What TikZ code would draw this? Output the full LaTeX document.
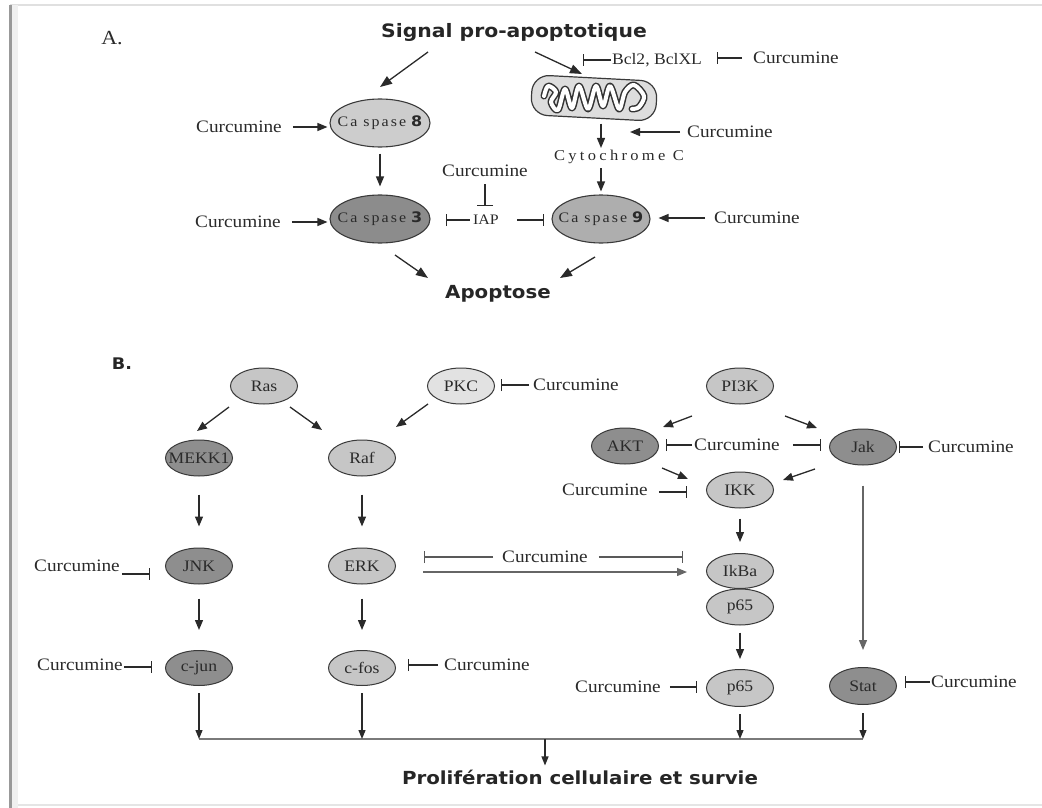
\documentclass[tikz,border=0pt]{standalone}
\usepackage{fontspec}
\usepackage{graphicx}
\setmainfont{Liberation Serif}[FakeStretch=1.1]
\newfontfamily\hdfont{DejaVu Sans Bold}[FakeStretch=1.1]
\newfontfamily\trackfont{Liberation Serif}[FakeStretch=1.1,LetterSpace=14]
\newfontfamily\cytofont{Liberation Serif}[FakeStretch=1.1,LetterSpace=22]
\usetikzlibrary{arrows.meta,shapes.geometric}

\definecolor{ink}{HTML}{2A2A2A}
\definecolor{edge}{HTML}{3A3A3A}
\definecolor{fillLight}{HTML}{C6C6C6}
\definecolor{fillDark}{HTML}{8E8E8E}
\definecolor{fillPale}{HTML}{E2E2E2}
\definecolor{cEight}{HTML}{CDCDCD}
\definecolor{cThree}{HTML}{8C8C8C}
\definecolor{cNine}{HTML}{AEAEAE}
\definecolor{mitofill}{HTML}{DDDDDD}
\definecolor{busgray}{HTML}{7A7A7A}

\newcommand\casplabel[1]{{\trackfont Ca spase}\hspace{5pt}{\hdfont\fontsize{14.5}{16}\selectfont #1}}

\tikzset{
  lbl/.style={inner sep=1pt, font=\fontsize{17.5}{20}\selectfont, text=ink},
  zerowidth/.style={execute at begin node={\hbox to 0pt\bgroup\hss},
                    execute at end node={\hss\egroup}},
  prot/.style={ellipse, draw=edge, line width=1pt, minimum width=67, minimum height=36,
               inner sep=0pt, zerowidth, font=\fontsize{16}{18}\selectfont, text=ink},
  casp/.style={ellipse, draw=edge, line width=1.1pt, minimum width=100, minimum height=48,
               inner sep=0pt, zerowidth, font=\fontsize{14.5}{16}\selectfont, text=ink},
  head/.style={inner sep=1pt, font=\hdfont\fontsize{18}{21}\selectfont, text=black!85},
  arr/.style={draw=ink, line width=1.3pt, -{Triangle[length=10pt,width=8pt]}},
  smallarr/.style={draw=ink, line width=1.2pt, -{Triangle[length=9pt,width=7pt]}},
  inh/.style={draw=ink, line width=1.2pt, -{Bar[width=12pt,line width=1.2pt]}},
  busline/.style={draw=busgray, line width=1.8pt},
}

\begin{document}
\begin{tikzpicture}[x=1pt,y=-1pt]
\useasboundingbox (0,0) rectangle (1042,808);

% page frame
\draw[line width=2pt, black!12] (10,5.5) -- (1042,5.5);
\draw[line width=1.2pt, black!10] (10,805) -- (1042,805);
\draw[line width=6pt, black!6] (15,5) -- (15,808);
\draw[line width=2.5pt, black!40] (10.5,5) -- (10.5,808);

%% ---------------- Part A: apoptosis ----------------
\node[lbl, font=\fontsize{20}{22}\selectfont] (labA) at (112,38) {A.};
\node[head, font=\hdfont\fontsize{18.5}{21}\selectfont] (signal) at (514,32) {Signal pro-apoptotique};

\node[casp, fill=cEight] (casp8) at (380,123) {\casplabel{8}};
\node[casp, fill=cThree] (casp3) at (380,219) {\casplabel{3}};
\node[casp, fill=cNine, minimum width=98] (casp9) at (601,219) {\casplabel{9}};

% mitochondrion with its cristae
\node[draw=edge, line width=1.2pt, fill=mitofill, rounded corners=17,
      minimum width=125, minimum height=40, rotate=-3] (mito) at (594,98) {};
\begin{scope}[shift={(mito.center)}]
  \draw[line width=7pt, black!80, line join=round, line cap=round]
    plot[smooth, tension=0.55] coordinates {(-50,-2) (-46,-12) (-38,-6) (-43,4) (-36,12)
      (-29,-9) (-22,10) (-15,-12) (-6,11) (2,-12) (9,8) (16,-12) (25,11) (31,-6)
      (40,-13) (50,-2) (45,9) (38,11)};
  \draw[line width=4pt, white, line join=round, line cap=round]
    plot[smooth, tension=0.55] coordinates {(-50,-2) (-46,-12) (-38,-6) (-43,4) (-36,12)
      (-29,-9) (-22,10) (-15,-12) (-6,11) (2,-12) (9,8) (16,-12) (25,11) (31,-6)
      (40,-13) (50,-2) (45,9) (38,11)};
\end{scope}

\node[lbl, font=\fontsize{16}{18}\selectfont] (bcl) at (657,60) {Bcl2, BclXL};
\node[lbl] (curBcl) at (796,58) {Curcumine};
\coordinate (bclbar) at (583,60);
\draw[inh] (bcl.west) -- (bclbar);
\draw[inh, shorten <=10, shorten >=14] (curBcl.west) -- (curBcl.west -| bcl.east);

\node[inner sep=1pt, font=\cytofont\fontsize{15}{17}\selectfont, text=ink] (cytC) at (619,157) {Cytochrome C};
\node[lbl] (curMito) at (730,132) {Curcumine};
\node[lbl] (curC8) at (239,127) {Curcumine};
\node[lbl] (curC3) at (238,222) {Curcumine};
\node[lbl] (curIAP) at (485,171) {Curcumine};
\node[lbl, font=\fontsize{14.5}{17}\selectfont] (iap) at (486,220) {IAP};
\node[lbl] (curC9) at (757,218) {Curcumine};
\node[head] (apop) at (498,294) {Apoptose};

% signal branches
\coordinate (sigL) at (428,52);  \coordinate (c8in) at (380,87);
\coordinate (sigR) at (535,52);  \coordinate (mitoin) at (582,74);
\draw[arr, -{Triangle[length=12pt,width=9pt]}] (sigL) -- (c8in);
\draw[arr, -{Triangle[length=12pt,width=9pt]}] (sigR) -- (mitoin);

\draw[arr, shorten <=5, shorten >=1] (mito.south -| casp9.north) -- (cytC.north -| casp9.north);
\draw[arr, shorten <=6, shorten >=11] (curMito.west) -- (curMito.west -| cytC.north);
\draw[arr, shorten <=3, shorten >=3] (cytC.south -| casp9.north) -- (casp9.north);

\draw[arr, shorten <=10, shorten >=2] (curC8.east) -- (curC8.east -| casp8.west);
\draw[arr, shorten <=6, shorten >=8] (casp8.south) -- (casp3.north);
\draw[arr, shorten <=10, shorten >=2] (curC3.east) -- (curC3.east -| casp3.west);
\draw[arr, shorten <=8, shorten >=8] (curC9.west) -- (curC9.west -| casp9.east);

\draw[inh, -{Bar[width=16pt,line width=1.2pt]}, shorten <=6, shorten >=8] (curIAP.south) -- (curIAP.south |- iap.north);
\draw[inh, shorten <=2, shorten >=15] (iap.west) -- (iap.west -| casp3.east);
\draw[inh, shorten <=17, shorten >=7] (iap.east) -- (iap.east -| casp9.west);

\coordinate (c3out) at (395,255); \coordinate (apL) at (428,278);
\coordinate (c9out) at (595,257); \coordinate (apR) at (560,278);
\draw[arr, -{Triangle[length=12pt,width=9pt]}] (c3out) -- (apL);
\draw[arr, -{Triangle[length=12pt,width=9pt]}] (c9out) -- (apR);

%% ---------------- Part B: proliferation ----------------
\node[head, font=\hdfont\fontsize{16}{18}\selectfont] (labB) at (122,364) {B.};

\node[prot, fill=fillLight] (ras)  at (264,386) {Ras};
\node[prot, fill=fillPale]  (pkc)  at (461,386) {PKC};
\node[prot, fill=fillLight] (pi3k) at (740,386) {PI3K};
\node[prot, fill=fillDark]  (mekk) at (199,458) {MEKK1};
\node[prot, fill=fillLight] (raf)  at (362,458) {Raf};
\node[prot, fill=fillDark]  (akt)  at (625,446) {AKT};
\node[prot, fill=fillDark]  (jak)  at (863,447) {Jak};
\node[prot, fill=fillLight] (ikk)  at (740,490) {IKK};
\node[prot, fill=fillDark]  (jnk)  at (199,566) {JNK};
\node[prot, fill=fillLight] (erk)  at (362,566) {ERK};
\node[prot, fill=fillLight, minimum height=35] (ikba) at (740,571) {IkBa};
\node[prot, fill=fillLight] (p65a) at (740,607) {p65};
\node[prot, fill=fillDark, minimum height=35]  (cjun) at (199,668) {c-jun};
\node[prot, fill=fillLight, minimum height=35] (cfos) at (362,668) {c-fos};
\node[prot, fill=fillLight, minimum height=37] (p65b) at (740,688) {p65};
\node[prot, fill=fillDark, minimum height=37]  (stat) at (863,686) {Stat};

% upstream activations
\coordinate (rasL) at (229,407);  \coordinate (mekkIn) at (197,431);
\coordinate (rasR) at (290,407);  \coordinate (rafInL) at (322,430);
\coordinate (pkcL) at (428,404);  \coordinate (rafInR) at (396,427);
\coordinate (piL) at (692,416);   \coordinate (aktIn) at (663,427);
\coordinate (piR) at (785,416);   \coordinate (jakIn) at (817,428);
\coordinate (aktOut) at (662,468); \coordinate (ikkInL) at (688,479);
\coordinate (jakOut) at (815,469); \coordinate (ikkInR) at (783,480);
\draw[arr] (rasL) -- (mekkIn);
\draw[arr] (rasR) -- (rafInL);
\draw[arr] (pkcL) -- (rafInR);
\draw[arr] (piL) -- (aktIn);
\draw[arr] (piR) -- (jakIn);
\draw[arr] (aktOut) -- (ikkInL);
\draw[arr] (jakOut) -- (ikkInR);

% cascades
\draw[arr, shorten <=18, shorten >=21] (mekk.south) -- (jnk.north);
\draw[arr, shorten <=18, shorten >=21] (raf.south) -- (erk.north);
\draw[arr, shorten <=14, shorten >=20] (jnk.south) -- (cjun.north);
\draw[arr, shorten <=14, shorten >=20] (erk.south) -- (cfos.north);
\draw[arr, shorten <=10, shorten >=11] (ikk.south) -- (ikba.north);
\draw[arr, shorten <=7, shorten >=10] (p65a.south) -- (p65b.north);
\draw[arr, draw=black!60, shorten <=20, shorten >=17] (jak.south) -- (stat.north);
\draw[arr, draw=black!60, shorten <=27, shorten >=19] ([yshift=-6pt]erk.east) -- ([yshift=-6pt]erk.east -| ikba.west);

% curcumine inhibitions
\node[lbl] (curPkc)  at (576,385) {Curcumine};
\node[lbl] (curAJ)   at (737,445) {Curcumine};
\node[lbl] (curJak)  at (971,447) {Curcumine};
\node[lbl] (curIkk)  at (605,490) {Curcumine};
\node[lbl] (curErk)  at (545,557) {Curcumine};
\node[lbl] (curJnk)  at (77,566)  {Curcumine};
\node[lbl] (curCjun) at (80,665)  {Curcumine};
\node[lbl] (curCfos) at (487,665) {Curcumine};
\node[lbl] (curP65)  at (618,687) {Curcumine};
\node[lbl] (curStat) at (974,682) {Curcumine};

\draw[inh, shorten <=3, shorten >=6] (curPkc.west) -- (curPkc.west -| pkc.east);
\draw[inh, shorten <=1, shorten >=7] (curAJ.west) -- (curAJ.west -| akt.east);
\draw[inh, shorten <=12, shorten >=8] (curAJ.east) -- (curAJ.east -| jak.west);
\draw[inh, shorten <=4, shorten >=2] (curJak.west) -- (curJak.west -| jak.east);
\draw[inh, shorten <=10, shorten >=19] ([yshift=-2pt]curIkk.east) -- ([yshift=-2pt]curIkk.east -| ikk.west);
\draw[inh, draw=black!65, shorten <=8, shorten >=28] (curErk.west) -- (curErk.west -| erk.east);
\draw[inh, draw=black!65, shorten <=10, shorten >=23] (curErk.east) -- (curErk.east -| ikba.west);
\draw[inh, shorten <=1, shorten >=15] ([yshift=-8pt]curJnk.east) -- ([yshift=-8pt]curJnk.east -| jnk.west);
\draw[inh, shorten <=0, shorten >=13] ([yshift=-2pt]curCjun.east) -- ([yshift=-2pt]curCjun.east -| cjun.west);
\draw[inh, shorten <=5, shorten >=12] (curCfos.west) -- (curCfos.west -| cfos.east);
\draw[inh, shorten <=8, shorten >=9] (curP65.east) -- (curP65.east -| p65b.west);
\draw[inh, shorten <=0, shorten >=8] (curStat.west) -- (curStat.west -| stat.east);

% convergence onto proliferation
\node[head] (prolif) at (580,777) {Prolifération cellulaire et survie};
\coordinate (bus) at (545,739);
\draw[busline] (cjun.south |- bus) -- (stat.south |- bus);
\draw[smallarr, shorten <=7] (cjun.south) -- (cjun.south |- bus);
\draw[smallarr, shorten <=7] (cfos.south) -- (cfos.south |- bus);
\draw[smallarr, shorten <=7] (p65b.south) -- (p65b.south |- bus);
\draw[smallarr, shorten <=8] (stat.south) -- (stat.south |- bus);
\draw[smallarr, shorten >=3] (bus) -- (bus |- prolif.north);
\end{tikzpicture}
\end{document}
